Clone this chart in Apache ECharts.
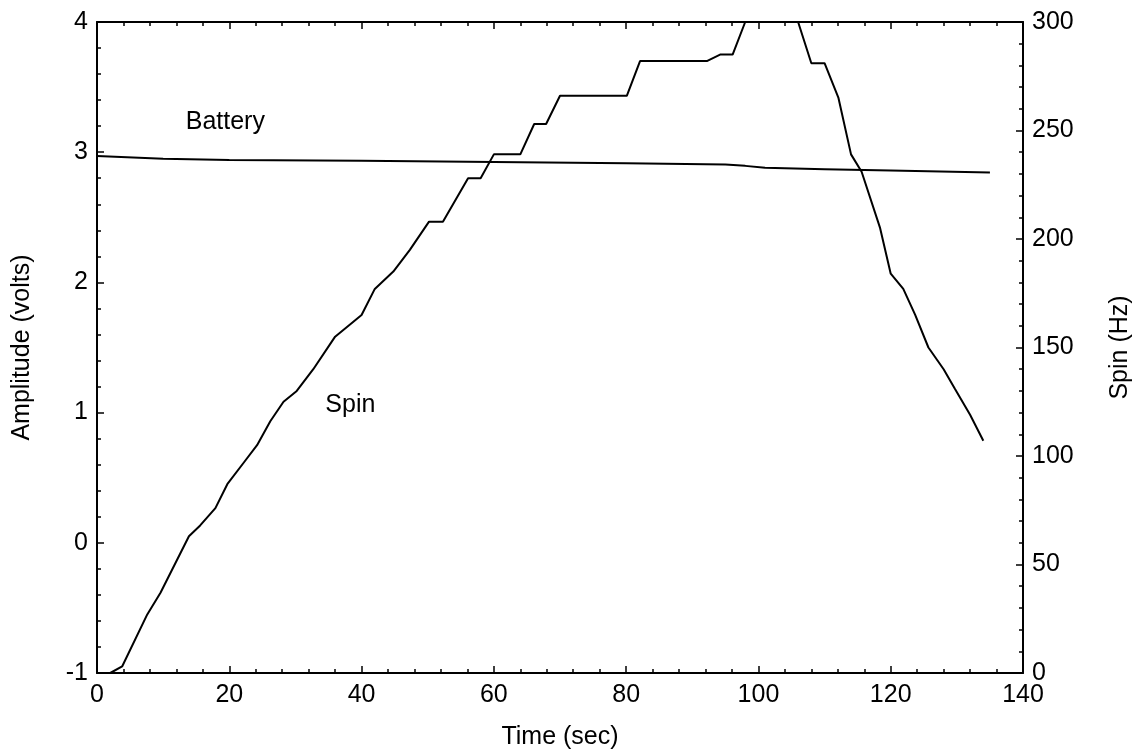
<!DOCTYPE html>
<html>
<head>
<meta charset="utf-8">
<script src="https://cdn.jsdelivr.net/npm/echarts@6/dist/echarts.min.js"></script>
<style>
html,body{margin:0;padding:0;background:#fff;}
#chart{width:1133px;height:753px;}
</style>
</head>
<body>
<div id="chart"></div>
<script>
// Battery voltage (left axis, volts)
const batteryTime = [0, 10, 20, 40, 60, 80, 95, 98, 101, 110, 120, 135];
const batteryVolts = [2.97, 2.95, 2.94, 2.935, 2.925, 2.915, 2.905, 2.895, 2.88, 2.87, 2.86, 2.845];

// Spin (right axis, Hz)
const spinTime = [0, 2, 3.8, 7.6, 9.6, 13.9, 15.6, 17.9, 19.7, 22.2, 24.2, 26.2, 28.2, 30.2, 32.7, 36, 40, 42, 44.8, 47.3, 50.2, 52.3, 56.1, 58, 60, 64, 66.1, 67.9, 70, 80.1, 82.1, 92.2, 94.2, 96.1, 98, 106, 108, 110, 112.1, 114, 115.6, 118.4, 120, 121.9, 123.7, 125.7, 128, 129.7, 132, 134];
const spinHz = [0, 0, 3, 27, 37, 63, 68, 76, 87, 97, 105, 116, 125, 130, 140, 155, 165, 177, 185, 195, 208, 208, 228, 228, 239, 239, 253, 253, 266, 266, 282, 282, 285, 285, 300, 300, 281, 281, 265, 239, 231, 205, 184, 177, 165, 150, 140, 131, 119, 107];

// Axis ranges
const xRange = [0, 140];
const leftRange = [-1, 4];
const rightRange = [0, 300];

// Inline curve labels (data coordinates)
const curveLabels = [
  {name: 'Battery', t: 19.4, v: 3.23, axis: 0},
  {name: 'Spin', t: 38.3, v: 123.5, axis: 1}
];

const batteryData = batteryTime.map((t, i) => [t, batteryVolts[i]]);
const spinData = spinTime.map((t, i) => [t, spinHz[i]]);

const FONT = 'Liberation Sans, Arial, sans-serif';
const FS = 25;
const axisCommon = {
  axisLine: {show: true, onZero: false, lineStyle: {color: '#000', width: 2}},
  axisTick: {show: true, inside: true, length: 7, lineStyle: {color: '#000', width: 1.5}},
  minorTick: {show: true, splitNumber: 5, length: 4, lineStyle: {color: '#000', width: 1.5}},
  splitLine: {show: false},
  axisLabel: {color: '#000', fontSize: FS, fontFamily: FONT},
  nameTextStyle: {color: '#000', fontSize: FS, fontFamily: FONT}
};

const chart = echarts.init(document.getElementById('chart'), null, {renderer: 'canvas'});
chart.setOption({
  backgroundColor: '#fff',
  animation: false,
  grid: {left: 97, right: 110, top: 22, bottom: 80, containLabel: false, outerBoundsMode: 'none'},
  xAxis: [
    Object.assign({}, axisCommon, {
      type: 'value', position: 'bottom', min: xRange[0], max: xRange[1], interval: 20,
      name: 'Time (sec)', nameLocation: 'middle', nameGap: 52,
      axisLabel: Object.assign({}, axisCommon.axisLabel, {margin: 10})
    }),
    Object.assign({}, axisCommon, {
      type: 'value', position: 'top', min: xRange[0], max: xRange[1], interval: 20,
      axisLabel: {show: false}
    })
  ],
  yAxis: [
    Object.assign({}, axisCommon, {
      type: 'value', position: 'left', min: leftRange[0], max: leftRange[1], interval: 1,
      name: 'Amplitude (volts)', nameLocation: 'middle', nameGap: 62,
      axisLabel: Object.assign({}, axisCommon.axisLabel, {margin: 9})
    }),
    Object.assign({}, axisCommon, {
      type: 'value', position: 'right', min: rightRange[0], max: rightRange[1], interval: 50,
      name: 'Spin (Hz)', nameLocation: 'middle', nameGap: 85,
      axisLabel: Object.assign({}, axisCommon.axisLabel, {margin: 9})
    })
  ],
  series: [
    {
      name: 'Battery', type: 'line', xAxisIndex: 0, yAxisIndex: 0,
      data: batteryData, showSymbol: false, symbol: 'none',
      lineStyle: {color: '#000', width: 2},
      markPoint: {
        symbol: 'circle', symbolSize: 0,
        label: {show: true, color: '#000', fontSize: FS, fontFamily: FONT, formatter: '{b}'},
        data: curveLabels.filter(l => l.axis === 0).map(l => ({name: l.name, coord: [l.t, l.v]}))
      }
    },
    {
      name: 'Spin', type: 'line', xAxisIndex: 0, yAxisIndex: 1,
      data: spinData, showSymbol: false, symbol: 'none',
      lineStyle: {color: '#000', width: 2},
      markPoint: {
        symbol: 'circle', symbolSize: 0,
        label: {show: true, color: '#000', fontSize: FS, fontFamily: FONT, formatter: '{b}'},
        data: curveLabels.filter(l => l.axis === 1).map(l => ({name: l.name, coord: [l.t, l.v]}))
      }
    }
  ]
});
</script>
</body>
</html>
